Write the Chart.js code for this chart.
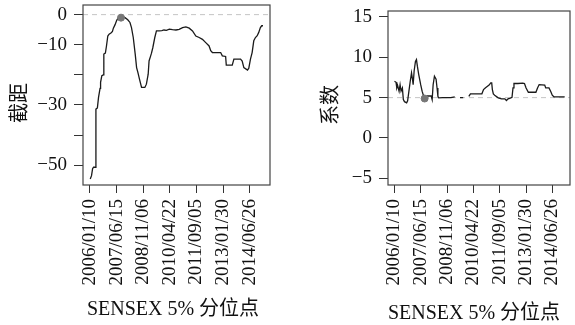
<!DOCTYPE html>
<html>
<head>
<meta charset="utf-8">
<script src="https://cdn.jsdelivr.net/npm/chart.js@4.4.0/dist/chart.umd.min.js"></script>
<style>
  html, body { margin: 0; padding: 0; background: #fff; }
  #wrap { position: relative; width: 575px; height: 325px; }
  canvas { position: absolute; top: 0; }
</style>
</head>
<body>
<div id="wrap">
  <canvas id="intercept" width="290" height="325" style="left:0"></canvas>
  <canvas id="slope" width="285" height="325" style="left:290px"></canvas>
</div>
<script>
// x runs in tick steps along the sample (one step per labelled date)
const tickSteps = [0, 1, 2, 3, 4, 5, 6];
const dateTicks = ['2006/01/10', '2007/06/15', '2008/11/06', '2010/04/22',
                   '2011/09/05', '2013/01/30', '2014/06/26'];

// rolling intercept
const interceptX = [0.012, 0.06, 0.10, 0.137, 0.20, 0.224, 0.226, 0.28, 0.323, 0.38, 0.40, 0.447,
  0.50, 0.522, 0.58, 0.62, 0.671, 0.72, 0.80, 0.845, 0.88, 0.94, 1.006, 1.07, 1.168, 1.25,
  1.317, 1.42, 1.503, 1.56, 1.627, 1.70, 1.752, 1.80, 1.86, 1.938, 2.00, 2.062, 2.12, 2.187,
  2.22, 2.28, 2.311, 2.36, 2.435, 2.497, 2.60, 2.70, 2.78, 2.87, 2.982, 3.10, 3.23, 3.35,
  3.479, 3.603, 3.727, 3.851, 3.976, 4.10, 4.224, 4.348, 4.473, 4.535, 4.597, 4.75, 4.908,
  4.97, 5.094, 5.119, 5.343, 5.405, 5.654, 5.716, 5.778, 5.915, 5.964, 6.027, 6.089, 6.151,
  6.213, 6.28, 6.337, 6.399, 6.45, 6.498];
const interceptY = [-54.6, -53.5, -51.2, -50.7, -50.7, -50.5, -31.4, -31.0, -27.5, -24.5, -22.5, -20.3,
  -20.0, -13.1, -12.8, -10.5, -7.1, -6.5, -6.0, -5.6, -4.5, -3.4, -1.9, -1.0, -0.8, -0.7,
  -1.0, -1.7, -2.6, -4.3, -7.6, -13.1, -17.6, -19.2, -21.4, -24.2, -24.2, -24.2, -23.1, -19.8,
  -15.4, -13.7, -12.8, -11.0, -7.6, -5.4, -5.4, -5.3, -5.1, -5.2, -4.85, -5.0, -5.1, -4.9,
  -4.3, -4.1, -4.5, -5.4, -7.1, -7.6, -8.2, -9.3, -10.4, -12.0, -12.6, -12.6, -12.6,
  -13.7, -13.9, -16.8, -16.8, -14.8, -14.8, -15.4, -17.6, -18.4, -17.8, -14.8, -12.6, -8.7,
  -7.6, -7.0, -5.9, -4.3, -3.7, -3.7];

// rolling slope (null = no estimate)
const slopeX = [0.0, 0.06, 0.088, 0.12, 0.175, 0.213, 0.25, 0.30, 0.337, 0.38, 0.462, 0.50,
  0.549, 0.598, 0.648, 0.68, 0.71, 0.747, 0.797, 0.835, 0.87, 0.922, 0.996, 1.05, 1.108,
  1.171, 1.245, 1.394, 1.432, 1.469, 1.519, 1.581, 1.618, 1.65, 1.68, 1.83, 2.141, 2.29,
  2.39, 2.489, 2.613, 2.72, 2.825, 2.887, 3.322, 3.384, 3.45, 3.509, 3.596, 3.658, 3.695,
  3.72, 3.757, 3.82, 3.944, 4.068, 4.193, 4.255, 4.317, 4.40, 4.466, 4.504, 4.541, 4.69,
  4.877, 4.94, 5.001, 5.088, 5.374, 5.436, 5.498, 5.709, 5.747, 5.871, 5.934, 5.996, 6.058,
  6.469];
const slopeY = [7.03, 6.9, 6.2, 6.5, 5.8, 6.6, 5.8, 6.2, 4.76, 4.5, 4.35, 4.6,
  5.8, 7.0, 8.07, 7.4, 6.6, 8.3, 9.5, 9.72, 8.9, 7.86, 6.6, 5.8, 5.17,
  4.97, 5.2, 5.2, 4.76, 6.6, 7.65, 7.3, 6.2, 5.17, 4.97, 5.0, 5.0, 5.1,
  null, 5.0, 5.0, null, 5.17, 5.47, 5.47, 6.0, 6.2, 6.34, 6.55, 6.83, 6.83,
  6.0, 5.47, 5.25, 4.97, 4.85, 4.85, 4.64, 4.85, 4.95, 5.05, 6.2, 6.75, 6.75,
  6.8, 6.75, 6.2, 5.67, 5.67, 6.2, 6.62, 6.55, 6.2, 6.2, 5.8, 5.3, 5.1,
  5.1];

const interceptTicks = [0, -10, -20, -30, -40, -50];
const interceptTickText = ['0', '\u221210', '', '\u221230', '', '\u221250'];
const slopeTicks = [15, 10, 5, 0, -5];
const slopeTickText = ['15', '10', '5', '0', '\u22125'];

const interceptMark = { x: 1.167, y: -1.0 };
const slopeMark = { x: 1.146, y: 4.89 };

const serif = "'Liberation Serif', 'Noto Sans CJK SC', serif";

// closed box round the plot plus the two axis titles
const frame = {
  id: 'frame',
  afterDraw(chart, args, opts) {
    const { ctx, chartArea: a } = chart;
    ctx.save();
    ctx.strokeStyle = '#444';
    ctx.lineWidth = 1.2;
    ctx.strokeRect(a.left, a.top, a.right - a.left, a.bottom - a.top);
    ctx.fillStyle = '#111';
    ctx.font = '20px ' + serif;
    ctx.textAlign = 'center';
    ctx.textBaseline = 'middle';
    ctx.fillText(opts.xTitle, opts.xTitleAt[0], opts.xTitleAt[1]);
    ctx.translate(opts.yTitleAt[0], opts.yTitleAt[1]);
    ctx.rotate(-Math.PI / 2);
    ctx.fillText(opts.yTitle, 0, 0);
    ctx.restore();
  }
};

// keep the plot box exactly where the layout padding puts it
function noLabelPadding(s) {
  s.paddingTop = 0;
  s.paddingBottom = 0;
  s.paddingLeft = 0;
  s.paddingRight = 0;
}

function panel(id, c) {
  return new Chart(document.getElementById(id), {
    type: 'line',
    data: {
      datasets: [
        {
          data: c.xs.map((x, i) => ({ x: x, y: c.ys[i] })),
          borderColor: '#1a1a1a', borderWidth: 1.3, pointRadius: 0,
          tension: 0, spanGaps: false, order: 1
        },
        {
          data: [{ x: c.xMin, y: c.ref }, { x: c.xMax, y: c.ref }],
          borderColor: '#c4c4c4', borderWidth: 1, borderDash: [5, 4],
          pointRadius: 0, order: 2
        },
        {
          data: [c.mark], showLine: false, pointRadius: 3.5,
          pointBackgroundColor: '#777', pointBorderColor: '#777', order: 0
        }
      ]
    },
    options: {
      responsive: false,
      animation: false,
      events: [],
      layout: { padding: { top: c.top, right: c.right, left: 0, bottom: 0 } },
      plugins: {
        legend: { display: false },
        tooltip: { enabled: false },
        frame: { xTitle: 'SENSEX 5% 分位点', xTitleAt: c.xTitleAt, yTitle: c.yTitle, yTitleAt: c.yTitleAt }
      },
      scales: {
        x: {
          type: 'linear', min: c.xMin, max: c.xMax,
          afterBuildTicks: s => { s.ticks = tickSteps.map(v => ({ value: v })); },
          afterFit: s => { s.height = 325 - c.bottom; noLabelPadding(s); },
          grid: { drawOnChartArea: false, tickLength: 8, color: '#333' },
          border: { display: false },
          ticks: {
            autoSkip: false, minRotation: 90, maxRotation: 90, padding: 6,
            color: '#111', font: { family: serif, size: 19 },
            callback: (v, i) => dateTicks[i]
          }
        },
        y: {
          min: c.yMin, max: c.yMax,
          afterBuildTicks: s => { s.ticks = c.yTicks.map(v => ({ value: v })); },
          afterFit: s => { s.width = c.left; noLabelPadding(s); },
          grid: { drawOnChartArea: false, tickLength: 9, color: '#333' },
          border: { display: false },
          ticks: {
            autoSkip: false, padding: 7,
            color: '#111', font: { family: serif, size: 19 },
            callback: (v, i) => c.yText[i]
          }
        }
      }
    },
    plugins: [frame]
  });
}

panel('intercept', {
  xs: interceptX, ys: interceptY, mark: interceptMark, ref: 0,
  xMin: -0.26, xMax: 6.76, yMin: -56.6, yMax: 3.2,
  yTicks: interceptTicks, yText: interceptTickText,
  left: 83, right: 20, top: 5, bottom: 185,
  yTitle: '截距', yTitleAt: [21, 103], xTitleAt: [173, 310]
});

panel('slope', {
  xs: slopeX, ys: slopeY, mark: slopeMark, ref: 5,
  xMin: -0.246, xMax: 6.67, yMin: -5.83, yMax: 15.74,
  yTicks: slopeTicks, yText: slopeTickText,
  left: 98, right: 2, top: 11, bottom: 185,
  yTitle: '系数', yTitleAt: [42, 105], xTitleAt: [184, 314]
});
</script>
</body>
</html>
